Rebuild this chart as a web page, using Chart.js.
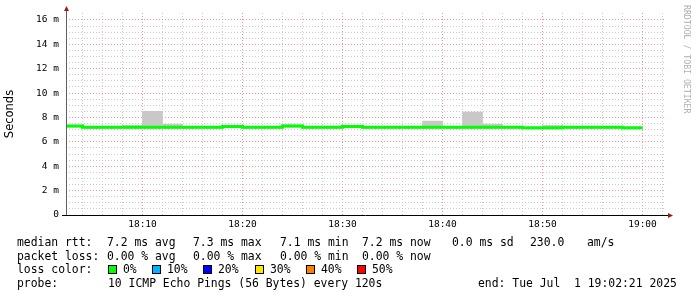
<!DOCTYPE html>
<html>
<head>
<meta charset="utf-8">
<script src="https://cdn.jsdelivr.net/npm/chart.js@4/dist/chart.umd.min.js"></script>
<style>
  html, body { margin: 0; padding: 0; background: #fff; }
  #wrap { position: relative; width: 697px; height: 297px; overflow: hidden; }
  #chart { position: absolute; left: 0; top: 0; }
  .t { position: absolute; font-family: "DejaVu Sans Mono", monospace; font-size: 11.4px;
       line-height: 14px; white-space: pre; color: #000; }
  .box { position: absolute; width: 7px; height: 7px; border: 1px solid #000; }
  #mark { position: absolute; left: 682px; top: 5px; writing-mode: vertical-rl;
          font-family: "DejaVu Sans Mono", monospace; font-size: 8.2px; color: #b0b0b0; white-space: pre; }
</style>
</head>
<body>
<div id="wrap">
  <canvas id="chart" width="697" height="297"></canvas>
  <div id="legend"></div>
  <div id="mark">RRDTOOL / TOBI OETIKER</div>
</div>
<script>
// start of each 2 minute step (median rtt in ms, smoke range in ms)
const stepStart = [
  "18:02", "18:04", "18:06", "18:08", "18:10", "18:12", "18:14", "18:16", "18:18", "18:20",
  "18:22", "18:24", "18:26", "18:28", "18:30", "18:32", "18:34", "18:36", "18:38", "18:40",
  "18:42", "18:44", "18:46", "18:48", "18:50", "18:52", "18:54", "18:56", "18:58",
];
const stepMinutes = 2;
const median = [
  7.3, 7.2, 7.2, 7.2, 7.2, 7.2, 7.2, 7.2, 7.25, 7.2,
  7.2, 7.3, 7.2, 7.2, 7.25, 7.2, 7.2, 7.2, 7.2, 7.2,
  7.2, 7.2, 7.2, 7.15, 7.15, 7.2, 7.2, 7.2, 7.15,
];
const smokeLo = [
  7.2, 7.1, 7.1, 7.1, 7.1, 7.1, 7.1, 7.1, 7.15, 7.1,
  7.1, 7.2, 7.1, 7.1, 7.15, 7.1, 7.1, 7.1, 7.1, 7.1,
  7.1, 7.1, 7.1, 7.05, 7.05, 7.1, 7.1, 7.1, 7.05,
];
const smokeHi = [
  7.35, 7.25, 7.25, 7.35, 8.5, 7.45, 7.25, 7.25, 7.35, 7.25,
  7.25, 7.4, 7.25, 7.3, 7.35, 7.25, 7.25, 7.25, 7.7, 7.25,
  8.45, 7.45, 7.25, 7.2, 7.35, 7.25, 7.25, 7.25, 7.2,
];

const xStart = "18:02:21";
const xEnd = "19:02:21";
const xLabelEvery = 10;   // minutes
const yMax = 16.57;       // ms

const statsRtt = ["median rtt:", "7.2 ms avg", "7.3 ms max", "7.1 ms min", "7.2 ms now", "0.0 ms sd", "230.0", "am/s"];
const statsLoss = ["packet loss:", "0.00 % avg", "0.00 % max", "0.00 % min", "0.00 % now"];
const lossLabels = ["0%", "10%", "20%", "30%", "40%", "50%"];
const lossColors = ["#00ff00", "#00b4ff", "#0000ff", "#ffe600", "#ff7f00", "#ff0000"];
const probeText = "10 ICMP Echo Pings (56 Bytes) every 120s";
const endText = "end: Tue Jul  1 19:02:21 2025";

// minutes after 18:00
function toMin(s) {
  const p = s.split(":").map(Number);
  return (p[0] - 18) * 60 + p[1] + (p[2] || 0) / 60;
}
function fmtMin(m) {
  const h = 18 + Math.floor(m / 60);
  return h + ":" + String(m % 60).padStart(2, "0");
}

const starts = stepStart.map(toMin);
const linePts = starts.map((x, i) => ({ x: x, y: median[i] }));
linePts.push({ x: starts[starts.length - 1] + stepMinutes, y: median[median.length - 1] });
const smokePts = starts.map((x, i) => ({ x: x + stepMinutes / 2, y: [smokeLo[i], smokeHi[i]] }));

const majorGrid = "rgba(225, 120, 120, 0.75)";
const minorGrid = "rgba(190, 190, 190, 0.8)";
const tickFont = { family: "DejaVu Sans Mono", size: 9.5 };

const axesDeco = {
  id: "axesDeco",
  afterDraw(chart) {
    const { ctx, chartArea: a } = chart;
    ctx.save();
    ctx.lineWidth = 1;
    ctx.strokeStyle = "#606060";
    ctx.beginPath();
    ctx.moveTo(a.left + 0.5, a.bottom);
    ctx.lineTo(a.left + 0.5, a.top - 3);
    ctx.stroke();
    ctx.strokeStyle = "#000";
    ctx.beginPath();
    ctx.moveTo(a.left - 4, a.bottom + 0.5);
    ctx.lineTo(a.right + 3, a.bottom + 0.5);
    ctx.stroke();
    ctx.fillStyle = "#9b1c1c";
    ctx.beginPath();
    ctx.moveTo(a.left + 0.5, a.top - 7);
    ctx.lineTo(a.left - 2, a.top - 2);
    ctx.lineTo(a.left + 3, a.top - 2);
    ctx.closePath();
    ctx.fill();
    ctx.beginPath();
    ctx.moveTo(a.right + 7, a.bottom + 0.5);
    ctx.lineTo(a.right + 2, a.bottom - 2);
    ctx.lineTo(a.right + 2, a.bottom + 3);
    ctx.closePath();
    ctx.fill();
    ctx.restore();
  },
};

new Chart(document.getElementById("chart"), {
  type: "bar",
  data: {
    datasets: [
      {
        type: "line",
        label: "median rtt",
        data: linePts,
        borderColor: "#00ff00",
        borderWidth: 3,
        pointRadius: 0,
        stepped: true,
        fill: false,
        order: 0,
      },
      {
        type: "bar",
        label: "smoke",
        data: smokePts,
        backgroundColor: "#c8c8c8",
        borderWidth: 0,
        barPercentage: 1,
        categoryPercentage: 1,
        order: 1,
      },
    ],
  },
  options: {
    responsive: false,
    animation: false,
    layout: { padding: { left: 0, top: 13, right: 31, bottom: 62 } },
    plugins: { legend: { display: false }, tooltip: { enabled: false } },
    scales: {
      x: {
        type: "linear",
        offset: false,
        min: toMin(xStart),
        max: toMin(xEnd),
        afterFit: (s) => { s.height = 20; },
        afterBuildTicks: (s) => {
          const ticks = [];
          for (let m = Math.ceil(s.min / stepMinutes) * stepMinutes; m <= s.max; m += stepMinutes) {
            ticks.push({ value: m });
          }
          s.ticks = ticks;
        },
        border: { display: false, dash: [1, 2] },
        grid: {
          offset: false,
          drawTicks: false,
          color: (c) => {
            const v = c.tick && c.tick.value;
            if (!Number.isInteger(v)) return "transparent";
            return v % xLabelEvery === 0 ? majorGrid : minorGrid;
          },
        },
        ticks: {
          autoSkip: false,
          maxRotation: 0,
          padding: 4,
          color: "#000",
          font: tickFont,
          callback: (v) => (v % xLabelEvery === 0 ? fmtMin(v) : ""),
        },
      },
      y: {
        min: 0,
        max: yMax,
        afterFit: (s) => { s.width = 66; },
        border: { display: false, dash: [1, 2] },
        grid: {
          drawTicks: false,
          color: (c) => {
            const v = c.tick && c.tick.value;
            if (!v || Math.abs(v * 2 - Math.round(v * 2)) > 1e-6) return "transparent";
            return v % 2 === 0 ? majorGrid : minorGrid;
          },
        },
        ticks: {
          stepSize: 0.5,
          autoSkip: false,
          padding: 7,
          color: "#000",
          font: tickFont,
          callback: (v) => (v === 0 ? "0" : v % 2 === 0 ? v + " m" : ""),
        },
        title: {
          display: true,
          text: "Seconds",
          color: "#000",
          font: { family: "DejaVu Sans", size: 11.5 },
          padding: { top: 3, bottom: 0 },
        },
      },
    },
  },
  plugins: [axesDeco],
});

// text legend below the plot
const legend = document.getElementById("legend");
function put(text, left, mid) {
  const d = document.createElement("div");
  d.className = "t";
  d.textContent = text;
  d.style.left = left + "px";
  d.style.top = mid - 7 + "px";
  legend.appendChild(d);
}
const rttX = [17, 107, 193, 280, 362, 452, 530, 587];
statsRtt.forEach((t, i) => put(t, rttX[i], 242));
statsLoss.forEach((t, i) => put(t, rttX[i], 256));
put("loss color:", 17, 269);
const boxX = [108, 152, 203, 255, 306, 357];
lossLabels.forEach((t, i) => {
  const b = document.createElement("div");
  b.className = "box";
  b.style.left = boxX[i] + "px";
  b.style.top = "265px";
  b.style.background = lossColors[i];
  legend.appendChild(b);
  put(t, boxX[i] + 15, 269);
});
put("probe:", 17, 283);
put(probeText, 108, 283);
put(endText, 478, 283);
</script>
</body>
</html>
